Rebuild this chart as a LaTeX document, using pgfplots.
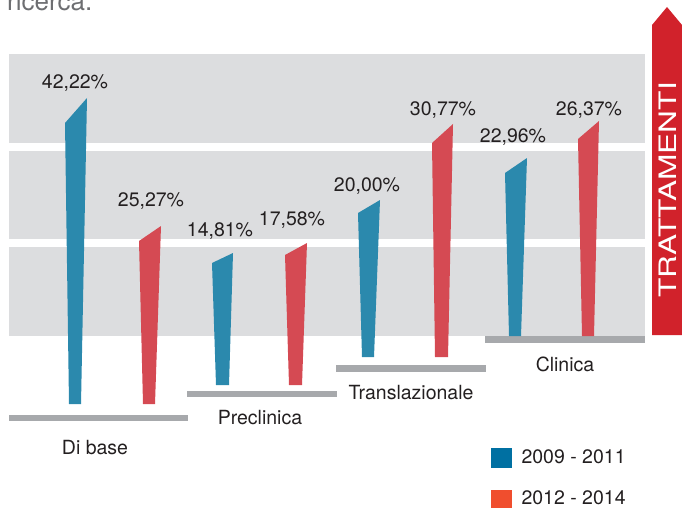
\documentclass[border=0pt]{standalone}
\usepackage{fontspec}
\setmainfont{TeX Gyre Heros}
\usepackage{pgfplots}
\pgfplotsset{compat=1.18}
\definecolor{band}{HTML}{DCDDDF}
\definecolor{baseline}{HTML}{A7A9AC}
\definecolor{barblue}{HTML}{2B89AD}
\definecolor{barred}{HTML}{D54A53}
\definecolor{legblue}{HTML}{0070A2}
\definecolor{legred}{HTML}{F04E2E}
\definecolor{arrowred}{HTML}{D1222B}
\definecolor{txt}{HTML}{231F20}
\definecolor{titlegray}{HTML}{6D6E71}
\tikzset{lbl/.style={font=\fontsize{19.5}{21}\selectfont, text=txt}}
\begin{document}
\begin{tikzpicture}
\path[use as bounding box] (0,0) rectangle (682pt,508pt);
\clip (0,0) rectangle (682pt,508pt);
\begin{axis}[at={(0,0)}, anchor=south west, scale only axis,
  width=682pt, height=508pt, xmin=0, xmax=682, ymin=0, ymax=508,
  y dir=reverse, axis lines=none, clip=false]
% grey bands
\addplot[fill=band, draw=none] coordinates {(9,54) (645,54) (645,143) (9,143)};
\addplot[fill=band, draw=none] coordinates {(9,151) (645,151) (645,239) (9,239)};
\addplot[fill=band, draw=none] coordinates {(9,247) (645,247) (645,336) (9,336)};
% base lines
\addplot[fill=baseline, draw=none] coordinates {(9,415) (188,415) (188,421) (9,421)};
\addplot[fill=baseline, draw=none] coordinates {(187,391) (337,391) (337,397) (187,397)};
\addplot[fill=baseline, draw=none] coordinates {(336,365) (486,365) (486,372) (336,372)};
\addplot[fill=baseline, draw=none] coordinates {(485,336) (645,336) (645,343) (485,343)};
% arrow
\addplot[fill=arrowred, draw=none] coordinates {(652,335) (652,25) (667,7) (682,25) (682,335)};
\node[rotate=90, text=white, font=\fontsize{24}{26}\selectfont] at (axis cs:668,190) {\scalebox{1.32}[1]{TRATTAMENTI}};
% bars 2009-2011
\addplot[fill=barblue, draw=none] coordinates {(69,404) (65,123) (87,98) (81,404)};
\addplot[fill=barblue, draw=none] coordinates {(216,385) (212,263) (233,253) (229,385)};
\addplot[fill=barblue, draw=none] coordinates {(362,357) (358,213) (380,200) (374,357)};
\addplot[fill=barblue, draw=none] coordinates {(509,336) (505,173) (527,158) (521,336)};
% bars 2012-2014
\addplot[fill=barred, draw=none] coordinates {(143,404) (139,241) (161,226) (155,404)};
\addplot[fill=barred, draw=none] coordinates {(289,385) (285,255) (307,243) (302,385)};
\addplot[fill=barred, draw=none] coordinates {(435,357) (432,143) (453,124) (448,357)};
\addplot[fill=barred, draw=none] coordinates {(582,336) (578,139) (599,121) (594,336)};
% value labels
\node[lbl] at (axis cs:75,83) {42,22\%};
\node[lbl] at (axis cs:151,201) {25,27\%};
\node[lbl] at (axis cs:220,231) {14,81\%};
\node[lbl] at (axis cs:292,220) {17,58\%};
\node[lbl] at (axis cs:367,186) {20,00\%};
\node[lbl] at (axis cs:443,110) {30,77\%};
\node[lbl] at (axis cs:513,137) {22,96\%};
\node[lbl] at (axis cs:589,110) {26,37\%};
% category labels
\node[lbl] at (axis cs:95,448) {Di base};
\node[lbl] at (axis cs:260,418) {Preclinica};
\node[lbl] at (axis cs:411,393) {Translazionale};
\node[lbl] at (axis cs:565,364) {Clinica};
% legend
\addplot[fill=legblue, draw=none] coordinates {(491,448) (512,448) (512,468) (491,468)};
\addplot[fill=legred, draw=none] coordinates {(491,490) (512,490) (512,508) (491,508)};
\node[lbl, anchor=west] at (axis cs:518,457) {2009 - 2011};
\node[lbl, anchor=west] at (axis cs:518,498) {2012 - 2014};
% cut-off title text
\node[anchor=base west, inner sep=0pt, text=titlegray, font=\fontsize{26}{28}\selectfont] at (axis cs:7,11) {ricerca.};
\end{axis}
\end{tikzpicture}
\end{document}
